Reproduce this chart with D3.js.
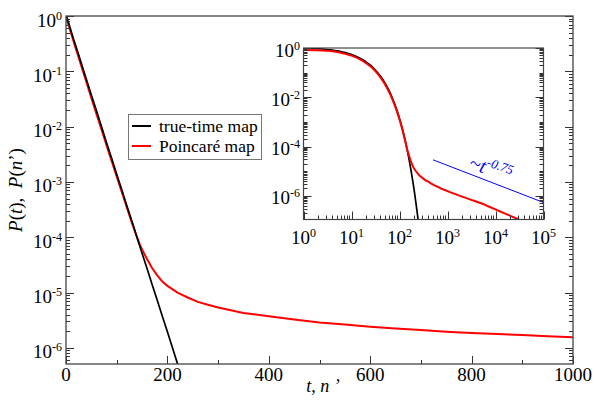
<!DOCTYPE html>
<html><head><meta charset="utf-8">
<script src="https://cdn.jsdelivr.net/npm/d3@7"></script>
<style>
html,body{margin:0;padding:0;background:#fff;}
svg{display:block;}
</style></head>
<body><svg id="c" width="600" height="400"></svg>
<script>
// ---- data ----
const tBlack = [0,1,2,3,4,5,6,7,8,10,12,15,20,25,30,40,50,60,70,80,90,100,110,120,130,140,150,160,170,180,190,200,210,220,230,240,250];
const pBlack = [1,0.977,0.933,0.871,0.813,0.759,0.708,0.661,0.617,0.537,0.468,0.380,0.275,0.200,0.141,0.0724,0.0372,0.0195,0.0100,5.13e-3,2.69e-3,1.38e-3,7.24e-4,3.72e-4,1.95e-4,1.0e-4,5.13e-5,2.69e-5,1.38e-5,7.24e-6,3.72e-6,1.95e-6,1.0e-6,5.13e-7,2.69e-7,1.38e-7,7.24e-8];
const tRed = [0,1,2,3,4,5,6,7,8,10,12,15,20,25,30,40,50,60,70,80,90,100,110,120,130,140,145,150,160,170,180,190,200,220,240,260,280,300,350,400,450,500,550,600,650,700,750,800,850,900,950,1000,1500,2000,3000,5000,7000,10000,15000,20000,30000,40000];
const pRed = [0.851,0.832,0.813,0.776,0.741,0.692,0.646,0.603,0.562,0.490,0.427,0.347,0.245,0.178,0.126,0.0646,0.0331,0.0170,8.91e-3,4.57e-3,2.40e-3,1.26e-3,6.61e-4,3.47e-4,1.82e-4,1.0e-4,7.59e-5,6.03e-5,3.98e-5,2.75e-5,2.04e-5,1.58e-5,1.32e-5,1.0e-5,8.13e-6,6.76e-6,6.03e-6,5.37e-6,4.27e-6,3.72e-6,3.24e-6,2.88e-6,2.63e-6,2.40e-6,2.24e-6,2.09e-6,1.95e-6,1.86e-6,1.78e-6,1.70e-6,1.62e-6,1.55e-6,1.15e-6,9.33e-7,7.08e-7,5.01e-7,3.80e-7,2.82e-7,2.00e-7,1.58e-7,1.12e-7,8.91e-8];
const guideT = [500, 100000];
const guideP = [2.9e-5, 5.4e-7];
const seriesNames = ["true-time map", "Poincaré map"];
const seriesColors = ["#000000", "#ff0000"];
const mainXTicks = [0,200,400,600,800,1000];
const mainYExps = [0,-1,-2,-3,-4,-5,-6];
const insetXExps = [0,1,2,3,4,5];
const insetYExps = [0,-2,-4,-6];

// ---- layout ----
const FONT = "Liberation Serif";
const svg = d3.select("#c");
const M = {l:66, r:573, t:16, b:364};
const I = {l:303.5, r:543.5, t:48, b:219.5};
const x = d3.scaleLinear().domain([0,1000]).range([M.l, M.r]);
const y = d3.scaleLog().domain([5.1e-7,1]).range([M.b, M.t]);
const xi = d3.scaleLog().domain([1,1e5]).range([I.l, I.r]);
const yi = d3.scaleLog().domain([1.1e-7,1]).range([I.b, I.t]);

const black = tBlack.map((t,i)=>({t, p:pBlack[i]}));
const red = tRed.map((t,i)=>({t, p:pRed[i]}));

const defs = svg.append("defs");
defs.append("clipPath").attr("id","cm").append("rect").attr("x",M.l).attr("y",M.t).attr("width",M.r-M.l).attr("height",M.b-M.t);
defs.append("clipPath").attr("id","ci").append("rect").attr("x",I.l).attr("y",I.t).attr("width",I.r-I.l).attr("height",I.b-I.t);

function txt(g){ return g.append("text").attr("font-family",FONT).attr("fill","#000"); }
function pow10(g, px, py, e, anchor, fs, sfs, dy){
  const t = txt(g).attr("x",px).attr("y",py).attr("text-anchor",anchor).attr("font-size",fs);
  t.append("tspan").text("10");
  t.append("tspan").attr("dy",-dy).attr("font-size",sfs).text(String(e));
  return t;
}
function logTicks(scale){
  const [a,b] = scale.domain();
  const out = [];
  for(let k=Math.floor(Math.log10(a))-1;k<=Math.ceil(Math.log10(b));k++){
    for(let m=1;m<=9;m++){
      const v = m*Math.pow(10,k);
      if(v>=a*0.999 && v<=b*1.001) out.push({v, m, k});
    }
  }
  return out;
}

// ---- main plot ----
const gm = svg.append("g");
const lineM = d3.line().x(d=>x(d.t)).y(d=>y(d.p));
const gmc = gm.append("g").attr("clip-path","url(#cm)");
gmc.append("path").datum(red.filter(d=>d.t<=1100)).attr("d",lineM).attr("fill","none").attr("stroke",seriesColors[1]).attr("stroke-width",2);
gmc.append("path").datum(black).attr("d",lineM).attr("fill","none").attr("stroke",seriesColors[0]).attr("stroke-width",1.7);

// main ticks
const tk = gm.append("g").attr("stroke","#333").attr("stroke-width",1);
logTicks(y).forEach(d=>{
  const yy = Math.round(y(d.v))+0.5;
  const len = d.m===1?8:4;
  tk.append("line").attr("x1",M.l).attr("x2",M.l+len).attr("y1",yy).attr("y2",yy);
  tk.append("line").attr("x1",M.r).attr("x2",M.r-len).attr("y1",yy).attr("y2",yy);
});
d3.range(0,1001,100).forEach(v=>{
  const xx = Math.round(x(v))+0.5;
  const len = v%200===0?8:4;
  tk.append("line").attr("x1",xx).attr("x2",xx).attr("y1",M.b).attr("y2",M.b-len);
});
gm.append("rect").attr("x",M.l).attr("y",M.t).attr("width",M.r-M.l).attr("height",M.b-M.t).attr("fill","none").attr("stroke","#444").attr("stroke-width",1.3);

// main tick labels
mainYExps.forEach(e=>{ pow10(gm, 62, y(Math.pow(10,e))+10.5, e, "end", 19, 12, 7); });
mainXTicks.forEach(v=>{
  txt(gm).attr("x",x(v)).attr("y",381).attr("text-anchor","middle").attr("font-size",19).text(v);
});
// axis titles
const yl = txt(gm).attr("transform","translate(22,190) rotate(-90)").attr("text-anchor","middle").attr("font-size",19);
yl.append("tspan").attr("font-style","italic").text("P");
yl.append("tspan").text("(");
yl.append("tspan").attr("font-style","italic").text("t");
yl.append("tspan").text("),\u00a0\u00a0");
yl.append("tspan").attr("font-style","italic").text("P");
yl.append("tspan").text("(");
yl.append("tspan").attr("font-style","italic").text("n");
yl.append("tspan").text("\u2019)");
const xl = txt(gm).attr("x",323).attr("y",392).attr("text-anchor","middle").attr("font-size",18).attr("font-style","italic");
xl.text("t, n \u2019");

// legend
const lg = gm.append("g");
lg.append("rect").attr("x",128.5).attr("y",114.5).attr("width",133).attr("height",45).attr("fill","#fff").attr("stroke","#777").attr("stroke-width",1);
seriesNames.forEach((n,i)=>{
  const cy = 126 + i*20;
  lg.append("line").attr("x1",132).attr("x2",151).attr("y1",cy).attr("y2",cy).attr("stroke",seriesColors[i]).attr("stroke-width",2);
  txt(lg).attr("x",159).attr("y",cy+5.5).attr("font-size",17.5).text(n);
});

// ---- inset ----
const gi = svg.append("g");
gi.append("rect").attr("x",I.l).attr("y",I.t).attr("width",I.r-I.l).attr("height",I.b-I.t).attr("fill","#fff");
const lineI = d3.line().x(d=>xi(d.t)).y(d=>yi(d.p)).curve(d3.curveMonotoneX);
const gic = gi.append("g").attr("clip-path","url(#ci)");
gic.append("path").datum(guideT.map((t,i)=>({t,p:guideP[i]}))).attr("d",d3.line().x(d=>xi(d.t)).y(d=>yi(d.p))).attr("fill","none").attr("stroke","#0000ff").attr("stroke-width",1);
gic.append("path").datum(black.filter(d=>d.t>=1)).attr("d",lineI).attr("fill","none").attr("stroke",seriesColors[0]).attr("stroke-width",1.7);
gic.append("path").datum(red.filter(d=>d.t>=1)).attr("d",lineI).attr("fill","none").attr("stroke",seriesColors[1]).attr("stroke-width",2);

const ti = gi.append("g").attr("stroke","#333").attr("stroke-width",1);
logTicks(yi).forEach(d=>{
  const yy = Math.round(yi(d.v))+0.5;
  const len = (d.m===1 && d.k%2===0)?8:4;
  ti.append("line").attr("x1",I.l).attr("x2",I.l+len).attr("y1",yy).attr("y2",yy);
  ti.append("line").attr("x1",I.r).attr("x2",I.r-len).attr("y1",yy).attr("y2",yy);
});
logTicks(xi).forEach(d=>{
  const xx = Math.round(xi(d.v))+0.5;
  const len = d.m===1?8:4;
  ti.append("line").attr("x1",xx).attr("x2",xx).attr("y1",I.b).attr("y2",I.b-len);
});
gi.append("rect").attr("x",I.l).attr("y",I.t).attr("width",I.r-I.l).attr("height",I.b-I.t).attr("fill","none").attr("stroke","#444").attr("stroke-width",1.2);

insetYExps.forEach(e=>{ pow10(gi, 300, yi(Math.pow(10,e))+8.5, e, "end", 19, 12, 7); });
insetXExps.forEach(e=>{
  const t = txt(gi).attr("x",xi(Math.pow(10,e))).attr("y",244).attr("text-anchor","middle").attr("font-size",19);
  t.append("tspan").text("10");
  t.append("tspan").attr("dy",-7).attr("font-size",12).text(e);
});

// guide label
const gl = txt(gi).attr("transform","translate(468,168) rotate(19)").attr("fill","#0000ff").attr("font-size",20).attr("font-style","italic");
gl.append("tspan").text("~t");
gl.append("tspan").attr("dy",-8).attr("font-size",13).text("-0.75");
</script></body></html>
